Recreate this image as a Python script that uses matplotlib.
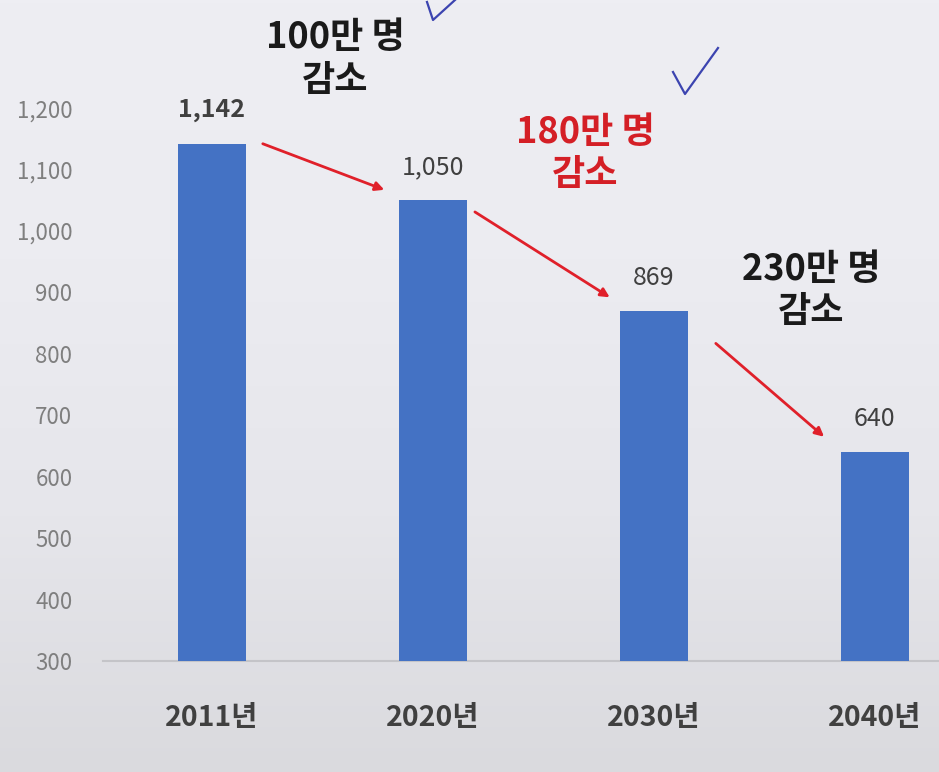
import numpy as np
import matplotlib
matplotlib.use("Agg")
import matplotlib.pyplot as plt

plt.rcParams['font.family'] = ['Noto Sans CJK KR', 'DejaVu Sans']

years = ["2011년", "2020년", "2030년", "2040년"]
values = [1142, 1050, 869, 640]
value_labels = ["1,142", "1,050", "869", "640"]
yticks = [300, 400, 500, 600, 700, 800, 900, 1000, 1100, 1200]
notes = ["100만 명\n감소", "180만 명\n감소", "230만 명\n감소"]
note_colors = ["#1a1a1a", "#d41f26", "#1a1a1a"]

W, H = 939, 772
fig = plt.figure(figsize=(W / 100, H / 100), dpi=100)

# background with a slight darkening toward the bottom
bg = fig.add_axes([0, 0, 1, 1], zorder=-10)
grad = np.linspace(0, 1, 256).reshape(-1, 1)
cmap = matplotlib.colors.LinearSegmentedColormap.from_list(
    "bg", ["#eeeef3", "#ececf1", "#e6e6eb", "#dadade"])
bg.imshow(grad, aspect="auto", cmap=cmap, extent=[0, 1, 0, 1])
bg.axis("off")

ax = fig.add_axes([103 / W, (H - 661) / H, 1 - 103 / W, 661 / H])
ax.set_facecolor("none")
x = np.arange(len(years))
ax.bar(x, values, width=0.31, bottom=0, color="#4472c4", zorder=3)
ax.set_xlim(-0.493, 3.29)
ax.set_ylim(300, 1376)

for s in ["top", "right", "left"]:
    ax.spines[s].set_visible(False)
ax.spines["bottom"].set_color("#c4c4c8")
ax.spines["bottom"].set_linewidth(1.5)

ax.set_yticks(yticks)
ax.set_yticklabels([f"{t:,}" for t in yticks], color="#7f7f7f", fontsize=16)
ax.tick_params(axis="y", length=0, pad=22)
ax.set_xticks(x)
ax.set_xticklabels(years, fontsize=20.5, fontweight="bold", color="#404040")
ax.tick_params(axis="x", length=0, pad=31)

for i, (v, lab) in enumerate(zip(values, value_labels)):
    ax.annotate(lab, (i, v), xytext=(0, 24), textcoords="offset points",
                ha="center", va="center", fontsize=18, color="#404040",
                fontweight="bold" if i == 0 else "normal")

# red arrows between bars
starts = [(0.23, 0), (1.19, -19), (2.28, -52)]
ends = [(0.78, 17), (1.80, 23), (2.77, 25)]
for i in range(3):
    sx, sdy = starts[i]
    ex, edy = ends[i]
    ax.annotate("", xy=(ex, values[i + 1] + edy), xytext=(sx, values[i] + sdy),
                arrowprops=dict(arrowstyle="-|>", color="#e0202a", lw=2,
                                mutation_scale=13, shrinkA=0, shrinkB=0),
                zorder=5)

# drop annotations
note_pos = [(0.557, 1280), (1.69, 1126), (2.71, 903)]
for (nx, ny), txt, c in zip(note_pos, notes, note_colors):
    ax.text(nx, ny, txt, ha="center", va="center", fontsize=26,
            fontweight="bold", color=c, linespacing=1.2)

# hand drawn check marks
fig.add_artist(plt.Line2D([427 / W, 433 / W, 455 / W],
                          [1 - 2 / H, 1 - 20 / H, 1 - 0 / H],
                          color="#3c44b0", lw=1.6))
fig.add_artist(plt.Line2D([673 / W, 685 / W, 718 / W],
                          [1 - 72 / H, 1 - 94 / H, 1 - 48 / H],
                          color="#3c44b0", lw=1.6))

fig.savefig("out.png", dpi=100)
